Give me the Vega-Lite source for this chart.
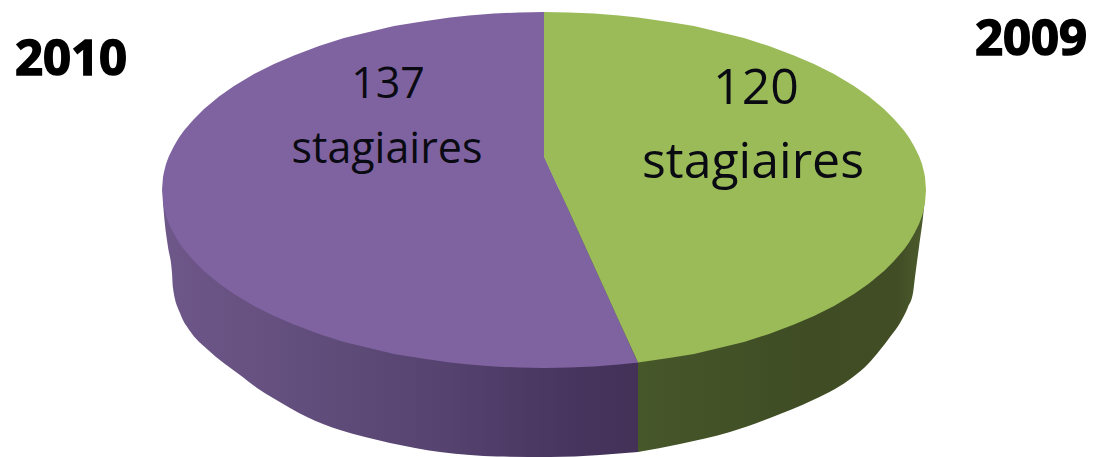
{
"$schema":"https://vega.github.io/schema/vega-lite/v6.json",
"width":1099,"height":457,"padding":0,"autosize":{"type":"none"},
"background":"white",
"config":{"view":{"stroke":null}},
"datasets":{
"side2010":[{"x":163,"y":203,"y2":190},{"x":165,"y":225,"y2":190},{"x":168,"y":247,"y2":190},{"x":172,"y":273,"y2":190},{"x":173,"y":288,"y2":190},{"x":180,"y":313,"y2":190},{"x":190,"y":331,"y2":190},{"x":207,"y":349,"y2":190},{"x":225,"y":364,"y2":190},{"x":240,"y":375,"y2":190},{"x":257,"y":388,"y2":190},{"x":273,"y":398,"y2":190},{"x":290,"y":408,"y2":190},{"x":307,"y":417,"y2":190},{"x":323,"y":424,"y2":190},{"x":340,"y":430,"y2":190},{"x":365,"y":437,"y2":190},{"x":390,"y":443,"y2":190},{"x":415,"y":448,"y2":190},{"x":440,"y":452,"y2":190},{"x":470,"y":455,"y2":190},{"x":497,"y":456.5,"y2":190},{"x":550,"y":457,"y2":190},{"x":600,"y":455,"y2":190},{"x":638,"y":452,"y2":190}],
"side2009":[{"x":638,"y":452,"y2":190},{"x":680,"y":444,"y2":190},{"x":730,"y":432,"y2":190},{"x":770,"y":418,"y2":190},{"x":813,"y":400,"y2":190},{"x":835,"y":389,"y2":190},{"x":853,"y":377,"y2":190},{"x":868,"y":364,"y2":190},{"x":880,"y":350,"y2":190},{"x":890,"y":337,"y2":190},{"x":900,"y":323,"y2":190},{"x":908,"y":307,"y2":190},{"x":913,"y":293,"y2":190},{"x":915,"y":277,"y2":190},{"x":919,"y":247,"y2":190},{"x":923,"y":217,"y2":190},{"x":925,"y":197,"y2":190}],
"top2010":[{"x":162,"y":190,"y2":190},{"x":163,"y":177,"y2":203},{"x":164,"y":172,"y2":208},{"x":166,"y":164,"y2":216},{"x":169,"y":156,"y2":224},{"x":174,"y":146,"y2":234},{"x":179,"y":137.5,"y2":242.5},{"x":184,"y":130.5,"y2":249.5},{"x":194,"y":119,"y2":261},{"x":204,"y":109,"y2":271},{"x":219,"y":96.5,"y2":283.5},{"x":234,"y":86,"y2":294},{"x":254,"y":74,"y2":306},{"x":274,"y":64,"y2":316},{"x":294,"y":55.5,"y2":324.5},{"x":319,"y":46,"y2":334},{"x":344,"y":38,"y2":342},{"x":369,"y":32,"y2":348},{"x":394,"y":26,"y2":354},{"x":419,"y":22,"y2":358},{"x":450,"y":17.5,"y2":362.5},{"x":469,"y":15.5,"y2":364.5},{"x":494,"y":13.5,"y2":366.5},{"x":519,"y":12.5,"y2":367.6},{"x":544,"y":12,"y2":368},{"x":544.5,"y":157,"y2":368},{"x":569,"y":211,"y2":367.6},{"x":594,"y":266,"y2":366.5},{"x":619,"y":321,"y2":364.5},{"x":638,"y":363,"y2":362.5}],
"top2009":[{"x":544,"y":12,"y2":157},{"x":569,"y":12.4,"y2":211},{"x":594,"y":13.5,"y2":266},{"x":619,"y":15.5,"y2":321},{"x":638,"y":17.5,"y2":362.5},{"x":669,"y":22,"y2":358},{"x":694,"y":26,"y2":354},{"x":719,"y":32,"y2":348},{"x":744,"y":38,"y2":342},{"x":769,"y":46,"y2":334},{"x":794,"y":55.5,"y2":324.5},{"x":814,"y":64,"y2":316},{"x":834,"y":74,"y2":306},{"x":854,"y":86,"y2":294},{"x":869,"y":96.5,"y2":283.5},{"x":884,"y":109,"y2":271},{"x":894,"y":119,"y2":261},{"x":904,"y":130.5,"y2":249.5},{"x":909,"y":137.5,"y2":242.5},{"x":914,"y":146,"y2":234},{"x":919,"y":156,"y2":224},{"x":922,"y":164,"y2":216},{"x":924,"y":172,"y2":208},{"x":925,"y":177,"y2":203},{"x":926,"y":190,"y2":190}],
"small":[{"label":"137","x":388,"y":98},{"label":"stagiaires","x":387,"y":163}],
"large":[{"label":"120","x":756,"y":104},{"label":"stagiaires","x":753,"y":178}],
"years":[{"label":"2010","x":71,"y":75},{"label":"2009","x":1031,"y":55}]
},
"encoding":{
"x":{"field":"x","type":"quantitative","scale":{"domain":[0,1099]},"axis":null},
"y":{"field":"y","type":"quantitative","scale":{"domain":[457,0]},"axis":null}
},
"layer":[
{"data":{"name":"side2010"},"mark":{"type":"area","orient":"vertical","interpolate":"monotone","color":{"gradient":"linear","x1":0,"x2":1,"y1":0,"y2":0,"stops":[{"offset":0,"color":"#6e5789"},{"offset":0.3,"color":"#624e7c"},{"offset":0.58,"color":"#57436f"},{"offset":0.8,"color":"#4a3762"},{"offset":1,"color":"#433158"}]}},"encoding":{"y2":{"field":"y2"}}},
{"data":{"name":"side2009"},"mark":{"type":"area","orient":"vertical","interpolate":"monotone","color":{"gradient":"linear","x1":0,"x2":1,"y1":0,"y2":0,"stops":[{"offset":0,"color":"#46572a"},{"offset":0.6,"color":"#3f4c24"},{"offset":0.9,"color":"#414d25"},{"offset":1,"color":"#4c5c2c"}]}},"encoding":{"y2":{"field":"y2"}}},
{"data":{"name":"top2010"},"mark":{"type":"area","orient":"vertical","color":"#7f63a1"},"encoding":{"y2":{"field":"y2"}}},
{"data":{"name":"top2009"},"mark":{"type":"area","orient":"vertical","color":"#9bbb59"},"encoding":{"y2":{"field":"y2"}}},
{"data":{"name":"small"},"mark":{"type":"text","font":"Open Sans","fontSize":43,"align":"center","baseline":"alphabetic","color":"#0a0a12"},"encoding":{"text":{"field":"label"}}},
{"data":{"name":"large"},"mark":{"type":"text","font":"Open Sans","fontSize":50,"align":"center","baseline":"alphabetic","color":"#0a0a12"},"encoding":{"text":{"field":"label"}}},
{"data":{"name":"years"},"mark":{"type":"text","font":"Open Sans","fontSize":49,"fontWeight":"bold","align":"center","baseline":"alphabetic","color":"#000000","stroke":"#000000","strokeWidth":1.5},"encoding":{"text":{"field":"label"}}}
]
}
